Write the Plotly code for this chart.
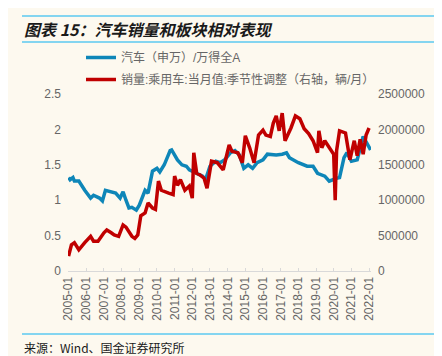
import plotly.graph_objects as go

# ---- data ----
blue_dates = ["2005-01","2005-02","2005-04","2005-05","2005-08","2005-10","2005-12","2006-04","2006-06",
              "2006-10","2006-12","2007-02","2007-05","2007-09","2007-12","2008-02","2008-04","2008-06",
              "2008-08","2008-11","2009-01","2009-05","2009-07","2009-10","2010-01","2010-03","2010-06",
              "2010-08","2010-10","2010-11","2011-01","2011-03","2011-06","2011-09","2011-11","2012-04",
              "2012-08","2012-10","2013-01","2013-05","2013-08","2013-11","2014-03","2014-06","2014-09",
              "2014-12","2015-03","2015-06","2015-09","2016-01","2016-04","2016-10","2017-02","2017-05",
              "2017-07","2018-01","2018-07","2018-11","2019-02","2019-07","2019-10","2020-03","2020-05",
              "2020-08","2020-10","2021-01","2021-05","2021-09","2021-11","2022-02"]
blue_vals = [1.32,1.29,1.32,1.27,1.27,1.20,1.14,1.03,1.07,
             1.03,0.99,1.14,1.12,1.10,1.03,1.12,1.00,0.89,
             0.90,0.86,0.93,1.14,1.10,1.41,1.45,1.40,1.50,
             1.60,1.70,1.71,1.64,1.57,1.50,1.48,1.43,1.38,
             1.34,1.29,1.48,1.55,1.53,1.57,1.67,1.70,1.64,
             1.45,1.50,1.45,1.53,1.57,1.65,1.64,1.65,1.67,
             1.60,1.53,1.48,1.48,1.38,1.34,1.27,1.31,1.32,
             1.60,1.67,1.55,1.57,1.90,1.82,1.71]

red_dates = ["2005-01","2005-03","2005-05","2005-08","2005-12","2006-04","2006-06","2006-09","2007-01",
             "2007-03","2007-06","2007-08","2007-11","2008-02","2008-04","2008-06","2008-08","2008-10",
             "2008-12","2009-02","2009-05","2009-07","2009-09","2009-10","2009-12","2010-02","2010-04",
             "2010-06","2010-09","2010-12","2011-01","2011-03","2011-05","2011-08","2011-11","2012-01",
             "2012-02","2012-04","2012-06","2012-09","2012-11","2013-02","2013-06","2013-10","2014-02",
             "2014-04","2014-08","2014-11","2015-01","2015-04","2015-07","2015-10","2016-01","2016-03",
             "2016-06","2016-08","2016-10","2016-12","2017-02","2017-04","2017-08","2017-11","2018-02",
             "2018-05","2018-08","2018-11","2019-02","2019-03","2019-05","2019-07","2019-10","2020-01",
             "2020-02","2020-03","2020-05","2020-09","2020-12","2021-03","2021-05","2021-07","2021-09",
             "2021-11","2022-01"]
red_vals = [210000,370000,400000,300000,400000,490000,420000,420000,540000,
            580000,540000,510000,490000,650000,620000,560000,490000,460000,
            510000,780000,820000,960000,920000,890000,870000,1270000,1140000,
            1120000,1100000,1080000,1340000,1210000,1290000,1140000,1200000,1030000,
            1670000,1380000,1360000,1310000,1170000,1550000,1530000,1430000,1780000,
            1690000,1670000,1530000,1910000,1740000,1530000,1920000,1990000,1920000,
            1900000,2090000,2190000,1980000,2230000,1840000,2020000,2190000,2150000,
            2010000,1940000,1840000,1670000,1980000,1740000,1840000,1740000,1650000,
            1000000,1700000,1980000,1950000,1570000,1840000,1630000,1860000,1650000,
            1920000,2020000]

blue_name = "汽车（申万）/万得全A"
red_name = "销量:乘用车:当月值:季节性调整（右轴，辆/月）"
title_text = "图表 15：汽车销量和板块相对表现"
source_text = "来源：Wind、国金证券研究所"
xtick_vals = [f"{y}-01-01" for y in range(2005, 2023)]
xtick_text = [f"{y}-01" for y in range(2005, 2023)]

BG = "#FDF9EF"
GREY = "#666666"
FONT = "Liberation Sans, Noto Sans CJK SC, sans-serif"

fig = go.Figure()
fig.add_trace(go.Scatter(x=blue_dates, y=blue_vals, mode="lines", name=blue_name,
                         line=dict(color="#0E86B8", width=3.5), legendgroup="a"))
fig.add_trace(go.Scatter(x=red_dates, y=red_vals, mode="lines", name=red_name, yaxis="y2",
                         line=dict(color="#C00000", width=3.5), legendgroup="b"))

L, R, T, B = 60, 79, 86, 93
W, H = 442, 356
pw, ph = W - L - R, H - T - B

def px(xp):
    return (xp - L) / pw

def py(yp):
    return (H - B - yp) / ph

fig.update_layout(
    width=W, height=H,
    margin=dict(l=L, r=R, t=T, b=B),
    paper_bgcolor=BG, plot_bgcolor=BG,
    font=dict(family=FONT, size=12, color=GREY),
    showlegend=True,
    legend=dict(x=px(73), y=py(35), xanchor="left", yanchor="top",
                bgcolor="rgba(0,0,0,0)", font=dict(size=12, color=GREY),
                traceorder="grouped", tracegroupgap=3),
    xaxis=dict(type="date", range=["2004-12-20", "2022-02-10"],
               tickvals=xtick_vals, ticktext=xtick_text, tickangle=-90,
               showgrid=False, zeroline=False, showline=True, linecolor="#D9D9D9", linewidth=1,
               ticks="inside", ticklen=3, tickcolor="#D9D9D9",
               tickfont=dict(size=12, color=GREY)),
    yaxis=dict(range=[0, 2.5], dtick=0.5, showgrid=False, zeroline=False, showline=False,
               tickfont=dict(size=12, color=GREY), ticklabelstandoff=6),
    yaxis2=dict(range=[0, 2500000], dtick=500000, tickformat="d", overlaying="y", side="right",
                showgrid=False, zeroline=False, showline=False,
                tickfont=dict(size=12, color=GREY), ticklabelstandoff=6),
)

line_col = "#5BC8F0"
for yp in (8, 34, 326):
    fig.add_shape(type="line", xref="paper", yref="paper", x0=px(14), x1=px(439),
                  y0=py(yp), y1=py(yp), line=dict(color=line_col, width=1.5))

fig.add_annotation(text=f"<b><i>{title_text}</i></b>", xref="paper", yref="paper",
                   x=px(14), y=py(21), xanchor="left", yanchor="middle", showarrow=False,
                   font=dict(family="Noto Sans CJK SC", size=16, color="#1a1a1a"))
fig.add_annotation(text=source_text, xref="paper", yref="paper",
                   x=px(14), y=py(339), xanchor="left", yanchor="middle", showarrow=False,
                   font=dict(family="Noto Sans CJK SC, Liberation Sans", size=12, color="#1a1a1a"))

fig.write_html("out.html")
